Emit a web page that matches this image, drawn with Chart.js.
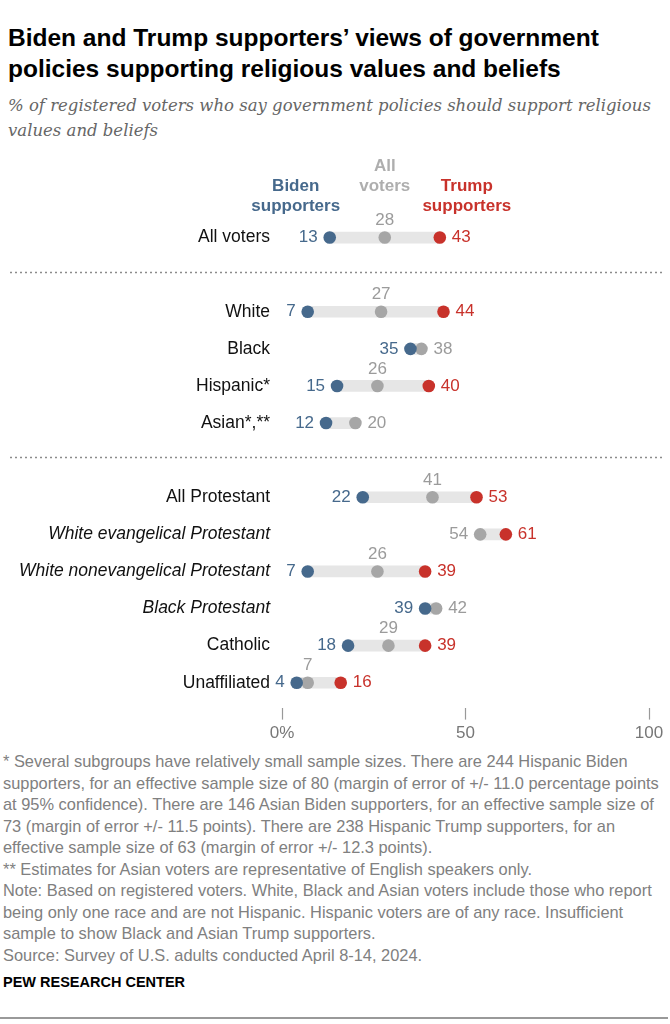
<!DOCTYPE html>
<html>
<head>
<meta charset="utf-8">
<script src="https://cdn.jsdelivr.net/npm/chart.js@4.4.1/dist/chart.umd.min.js"></script>
<style>
body{margin:0;width:670px;height:1024px;background:#fff;font-family:"Liberation Sans",Arial,sans-serif;position:relative;overflow:hidden}
h1{margin:0;position:absolute;left:8px;top:22px;font-size:24.5px;line-height:31px;font-weight:bold;color:#000}
.sub{position:absolute;left:8px;top:93px;font-family:"DejaVu Serif",serif;font-style:italic;font-size:16.5px;line-height:25px;color:#666}
#wrap{position:absolute;left:0;top:150px;width:670px;height:600px}
.notes{position:absolute;left:3px;top:751px;font-size:16.4px;line-height:21.5px;color:#808080;white-space:nowrap}
.pew{position:absolute;left:3px;top:974px;font-size:14.5px;font-weight:bold;color:#000}
.rule{position:absolute;left:0;top:1017px;width:668px;height:2px;background:#999}
</style>
</head>
<body>
<h1>Biden and Trump supporters’ views of government<br>policies supporting religious values and beliefs</h1>
<div class="sub">% of registered voters who say government policies should support religious<br>values and beliefs</div>
<div id="wrap"><canvas id="dotChart"></canvas></div>
<div class="notes">* Several subgroups have relatively small sample sizes. There are 244 Hispanic Biden<br>supporters, for an effective sample size of 80 (margin of error of +/- 11.0 percentage points<br>at 95% confidence). There are 146 Asian Biden supporters, for an effective sample size of<br>73 (margin of error +/- 11.5 points). There are 238 Hispanic Trump supporters, for an<br>effective sample size of 63 (margin of error +/- 12.3 points).<br>** Estimates for Asian voters are representative of English speakers only.<br>Note: Based on registered voters. White, Black and Asian voters include those who report<br>being only one race and are not Hispanic. Hispanic voters are of any race. Insufficient<br>sample to show Black and Asian Trump supporters.<br>Source: Survey of U.S. adults conducted April 8-14, 2024.</div>
<div class="pew">PEW RESEARCH CENTER</div>
<div class="rule"></div>
<script>
// rows, "" = gap with a dotted separator
var rows = ["All voters", "", "White", "Black", "Hispanic*", "Asian*,**", "",
    "All Protestant", "White evangelical Protestant", "White nonevangelical Protestant",
    "Black Protestant", "Catholic", "Unaffiliated"];
var italicRows = ["White evangelical Protestant", "White nonevangelical Protestant", "Black Protestant"];
var biden = [13, null, 7, 35, 15, 12, null, 22, null, 7, 39, 18, 4];
var allVoters = [28, null, 27, 38, 26, 20, null, 41, 54, 26, 42, 29, 7];
var trump = [43, null, 44, null, 40, null, null, 53, 61, 39, null, 39, 16];
var xTicks = [0, 50, 100];

var blue = "#46698c", gray = "#a6a6a6", red = "#c8322b";
var font = '"Liberation Sans", Arial, sans-serif';

function points(arr){
    return arr.map(function(v, i){ return v == null ? null : {x: v, y: i}; })
        .filter(function(p){ return p; });
}

var track = rows.map(function(r, i){
    var v = [biden[i], allVoters[i], trump[i]].filter(function(n){ return n != null; });
    return v.length ? {y: i, x: [Math.min.apply(null, v), Math.max.apply(null, v)]} : null;
}).filter(function(p){ return p; });

var separators = {
    id: "separators",
    beforeDatasetsDraw: function(chart){
        var ctx = chart.ctx, ys = chart.scales.y;
        ctx.save();
        ctx.strokeStyle = "#8c8c8c";
        ctx.lineWidth = 1.3;
        ctx.setLineDash([2, 3]);
        rows.forEach(function(r, i){
            if (r !== "") return;
            var y = Math.round(ys.getPixelForValue(i)) - 2.5;
            ctx.beginPath();
            ctx.moveTo(10, y);
            ctx.lineTo(chart.width - 8, y);
            ctx.stroke();
        });
        ctx.restore();
    }
};

var valueLabels = {
    id: "valueLabels",
    afterDatasetsDraw: function(chart){
        var ctx = chart.ctx, xs = chart.scales.x, ys = chart.scales.y;
        var gap = 12;
        ctx.save();
        ctx.font = "17px " + font;
        ctx.textBaseline = "middle";
        rows.forEach(function(r, i){
            var y = ys.getPixelForValue(i);
            if (biden[i] != null){
                ctx.fillStyle = blue; ctx.textAlign = "right";
                ctx.fillText(biden[i], xs.getPixelForValue(biden[i]) - gap, y);
            }
            if (trump[i] != null){
                ctx.fillStyle = red; ctx.textAlign = "left";
                ctx.fillText(trump[i], xs.getPixelForValue(trump[i]) + gap, y);
            }
            if (allVoters[i] != null){
                var x = xs.getPixelForValue(allVoters[i]);
                ctx.fillStyle = "#9b9b9b";
                if (biden[i] != null && trump[i] != null){
                    ctx.textAlign = "center"; ctx.fillText(allVoters[i], x, y - 17);
                } else if (trump[i] == null){
                    ctx.textAlign = "left"; ctx.fillText(allVoters[i], x + gap, y);
                } else {
                    ctx.textAlign = "right"; ctx.fillText(allVoters[i], x - gap, y);
                }
            }
        });
        // column headers over the first row
        var y0 = ys.getPixelForValue(0);
        ctx.font = "bold 17px " + font;
        ctx.textAlign = "center";
        ctx.fillStyle = blue;
        var bx = xs.getPixelForValue(biden[0]) - 34;
        ctx.fillText("Biden", bx, y0 - 51);
        ctx.fillText("supporters", bx, y0 - 31);
        ctx.fillStyle = "#aeaeae";
        var gx = xs.getPixelForValue(allVoters[0]);
        ctx.fillText("All", gx, y0 - 71);
        ctx.fillText("voters", gx, y0 - 51);
        ctx.fillStyle = red;
        var tx = xs.getPixelForValue(trump[0]) + 27;
        ctx.fillText("Trump", tx, y0 - 51);
        ctx.fillText("supporters", tx, y0 - 31);
        ctx.restore();
    }
};

new Chart("dotChart", {
    type: "scatter",
    data: {
        datasets: [
            {
                type: "bar",
                indexAxis: "y",
                data: track,
                backgroundColor: "#e6e6e6",
                borderWidth: 0,
                barThickness: 11,
                order: 10,
            },
            { data: points(allVoters), backgroundColor: gray, pointRadius: 6.3, pointBorderWidth: 0, order: 3 },
            { data: points(biden), backgroundColor: blue, pointRadius: 6.3, pointBorderWidth: 0, order: 2 },
            { data: points(trump), backgroundColor: red, pointRadius: 6.3, pointBorderWidth: 0, order: 1 },
        ],
    },
    options: {
        responsive: true,
        maintainAspectRatio: false,
        animation: false,
        layout: { padding: { top: 69, right: 21, bottom: 2, left: 0 } },
        plugins: { legend: { display: false }, tooltip: { enabled: false } },
        scales: {
            x: {
                type: "linear",
                min: 0,
                max: 100,
                offset: false,
                afterBuildTicks: function(s){ s.ticks = xTicks.map(function(v){ return {value: v}; }); },
                grid: {
                    drawOnChartArea: false,
                    drawTicks: true,
                    tickLength: 12,
                    color: "#999",
                    tickColor: "#999",
                    tickWidth: 1.2,
                    offset: false,
                },
                border: { display: false },
                ticks: {
                    color: "#777",
                    padding: 4,
                    font: { family: font, size: 17 },
                    callback: function(v){ return v === 0 ? "0%" : String(v); },
                },
            },
            y: {
                type: "linear",
                reverse: true,
                offset: false,
                min: -0.5,
                max: 12.67,
                afterFit: function(s){ s.width = 282; },
                afterBuildTicks: function(s){
                    s.ticks = rows.map(function(r, i){ return {value: i}; })
                        .filter(function(t){ return rows[t.value] !== ""; });
                },
                grid: { display: false, drawTicks: false, offset: false },
                border: { display: false },
                ticks: {
                    autoSkip: false,
                    padding: 12,
                    color: "#111",
                    font: function(c){
                        var name = c.tick ? rows[c.tick.value] : "";
                        return { family: font, size: 17.5, style: italicRows.indexOf(name) >= 0 ? "italic" : "normal" };
                    },
                    callback: function(v){ return rows[v]; },
                },
            },
        },
    },
    plugins: [separators, valueLabels],
});
</script>
</body>
</html>
